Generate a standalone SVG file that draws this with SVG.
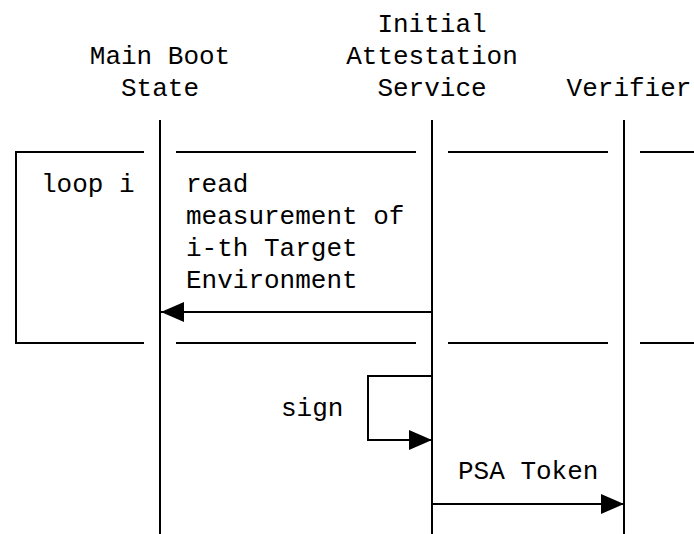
<svg xmlns="http://www.w3.org/2000/svg" width="694" height="534" viewBox="0 0 694 534">
  <style>
    .t { font-family: "Liberation Mono", "DejaVu Sans Mono", monospace; font-size: 26px; fill: #000; }
    .m { text-anchor: middle; }
    .ln { stroke: #000; stroke-width: 2; fill: none; }
  </style>
  <defs>
    <marker id="arrow" viewBox="0 0 23 20" refX="23" refY="10" markerWidth="23" markerHeight="20" markerUnits="userSpaceOnUse" orient="auto">
      <polygon points="0,0 23,10 0,20" fill="#000"/>
    </marker>
  </defs>
  <rect width="694" height="534" fill="#fff"/>

  <g id="main-boot-state">
    <text class="t m" x="160" y="64">Main Boot</text>
    <text class="t m" x="160" y="96">State</text>
    <line class="ln" x1="160" y1="120" x2="160" y2="534"/>
  </g>

  <g id="initial-attestation-service">
    <text class="t m" x="432" y="32">Initial</text>
    <text class="t m" x="432" y="64">Attestation</text>
    <text class="t m" x="432" y="96">Service</text>
    <line class="ln" x1="432" y1="120" x2="432" y2="534"/>
  </g>

  <g id="verifier">
    <text class="t m" x="629" y="96">Verifier</text>
    <line class="ln" x1="624" y1="120" x2="624" y2="534"/>
  </g>

  <g id="loop-frame">
    <path class="ln" d="M144,152 H16 V343 H144"/>
    <line class="ln" x1="176" y1="152" x2="416" y2="152"/>
    <line class="ln" x1="448" y1="152" x2="608" y2="152"/>
    <line class="ln" x1="640" y1="152" x2="694" y2="152"/>
    <line class="ln" x1="176" y1="343" x2="416" y2="343"/>
    <line class="ln" x1="448" y1="343" x2="608" y2="343"/>
    <line class="ln" x1="640" y1="343" x2="694" y2="343"/>
    <text class="t" x="41" y="192">loop i</text>
  </g>

  <g id="connectors">
    <line class="ln" x1="432" y1="312" x2="161" y2="312" marker-end="url(#arrow)"/>
    <text class="t" x="186" y="192">read</text>
    <text class="t" x="186" y="224">measurement of</text>
    <text class="t" x="186" y="256">i-th Target</text>
    <text class="t" x="186" y="288">Environment</text>

    <path class="ln" d="M432,376 H368 V440 H432" marker-end="url(#arrow)"/>
    <text class="t" x="281" y="416">sign</text>

    <line class="ln" x1="432" y1="504" x2="624" y2="504" marker-end="url(#arrow)"/>
    <text class="t" x="458" y="479">PSA Token</text>
  </g>
</svg>
